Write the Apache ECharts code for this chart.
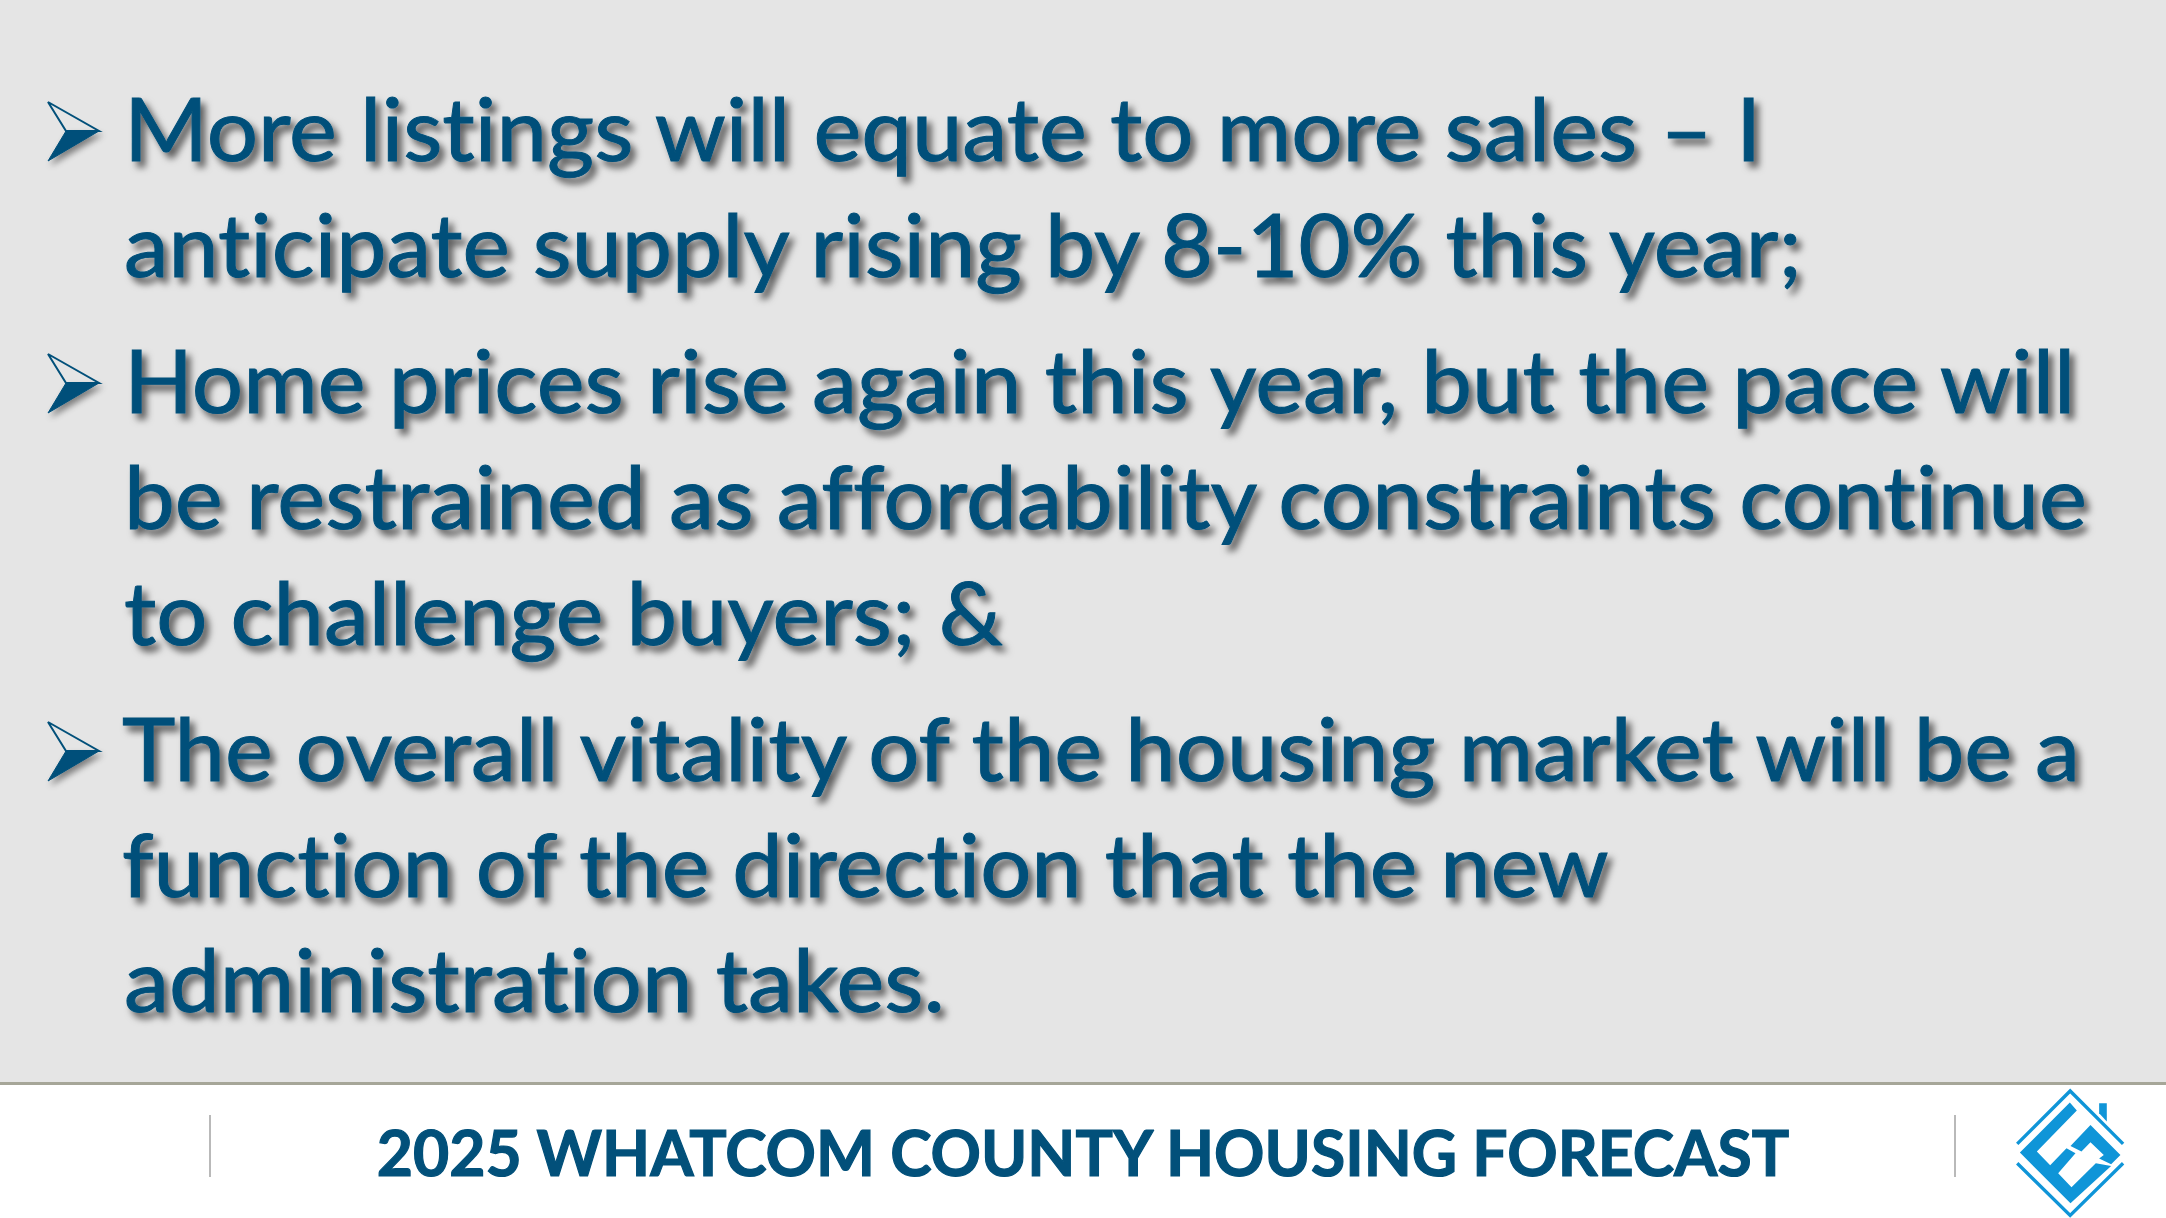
<!DOCTYPE html>
<html>
<head>
<meta charset="utf-8">
<title>2025 Whatcom County Housing Forecast</title>
<style>
html, body { margin: 0; padding: 0; background: #fff; }
#chart_1 { width: 2166px; height: 1218px; }
/* the slide has no ti / ff ligatures */
#chart_1 text { font-variant-ligatures: none !important; }
</style>
<script src="https://cdn.jsdelivr.net/npm/echarts@6/dist/echarts.min.js"></script>
</head>
<body>
<div id="chart_1"></div>
<script>
// slide text
var bodyLines = [
    'More listings will equate to more sales – I',
    'anticipate supply rising by 8-10% this year;',
    'Home prices rise again this year, but the pace will',
    'be restrained as affordability constraints continue',
    'to challenge buyers; &',
    'The overall vitality of the housing market will be a',
    'function of the direction that the new',
    'administration takes.'
];
var footerTitle = '2025 WHATCOM COUNTY HOUSING FORECAST';

// layout, kept apart from the text
var lineBaselines = [162, 278, 414, 530, 646, 782, 898, 1013];
var lineLefts = [124, 124, 124, 124, 124, 122, 122, 124];
var lineScales = [1.029, 1.02, 1.03, 1.032, 1.026, 1.027, 1.025, 1.029];
var bulletLineIndex = [0, 2, 5];

var blue = '#02507a';
var logoBlue = '#0f95d8';

var chart_1 = echarts.init(document.getElementById('chart_1'), null, { renderer: 'svg' });

var elements = [];

// footer band
elements.push({
    type: 'rect',
    shape: { x: 0, y: 1084, width: 2166, height: 134 },
    style: { fill: '#ffffff' }
});
elements.push({
    type: 'rect',
    shape: { x: 0, y: 1082, width: 2166, height: 3 },
    style: { fill: '#a6a698' }
});
[210, 1955].forEach(function (x) {
    elements.push({
        type: 'rect',
        shape: { x: x - 1, y: 1115, width: 2, height: 62 },
        style: { fill: '#b9b9b9' }
    });
});

// body text
for (var i = 0; i < bodyLines.length; i++) {
    elements.push({
        type: 'text',
        x: lineLefts[i],
        y: lineBaselines[i] + 9,
        scaleX: lineScales[i],
        style: {
            text: bodyLines[i],
            fill: blue,
            stroke: blue,
            lineWidth: 1,
            font: '88px Lato',
            textAlign: 'left',
            textVerticalAlign: 'bottom',
            textShadowColor: 'rgba(0,0,0,0.6)',
            textShadowBlur: 7,
            textShadowOffsetX: 5,
            textShadowOffsetY: 6
        }
    });
}

// bullets, each one two pieces: hollow top and solid bottom
bulletLineIndex.forEach(function (n) {
    var cy = lineBaselines[n] - 31;
    elements.push({
        type: 'polygon',
        shape: { points: [[48, cy - 29], [99, cy], [66, cy]] },
        style: { fill: 'rgba(255,255,255,0)', stroke: blue, lineWidth: 2 }
    });
    elements.push({
        type: 'polygon',
        shape: { points: [[48, cy + 30], [99, cy], [66, cy]] },
        style: {
            fill: blue,
            stroke: blue,
            lineWidth: 1,
            shadowColor: 'rgba(0,0,0,0.45)',
            shadowBlur: 6,
            shadowOffsetX: 3,
            shadowOffsetY: 4
        }
    });
});

// footer title
elements.push({
    type: 'text',
    x: 1083,
    y: 1177 + 6,
    scaleX: 0.976,
    style: {
        text: footerTitle,
        fill: blue,
        stroke: blue,
        lineWidth: 1.2,
        font: 'bold 64px Lato',
        textAlign: 'center',
        textVerticalAlign: 'bottom'
    }
});

// logo, points in a 3x grid
var logoPieces = [
    [[510, 128], [531, 152], [411, 275], [451, 316], [500, 265], [527, 280], [475, 340], [515, 382], [588, 310], [634, 318], [512, 430], [360, 278]],
    [[572, 195], [662, 285], [634, 313], [598, 296], [612, 285], [572, 247], [545, 275], [512, 258]],
    [[598, 130], [621, 130], [621, 185], [598, 160]]
];
var logoChildren = logoPieces.map(function (p) {
    return { type: 'polygon', shape: { points: p }, style: { fill: logoBlue } };
});
logoChildren.push({
    type: 'polyline',
    shape: { points: [[352, 252], [511, 93], [670, 252]] },
    style: { fill: 'none', stroke: logoBlue, lineWidth: 10 }
});
logoChildren.push({
    type: 'polyline',
    shape: { points: [[352, 310], [511, 467], [670, 310]] },
    style: { fill: 'none', stroke: logoBlue, lineWidth: 10 }
});
elements.push({
    type: 'group',
    x: 1900,
    y: 1060,
    scaleX: 1 / 3,
    scaleY: 1 / 3,
    children: logoChildren
});

var option = {
    backgroundColor: '#e5e5e5',
    animation: false,
    graphic: { elements: elements }
};
chart_1.setOption(option);
</script>
</body>
</html>
